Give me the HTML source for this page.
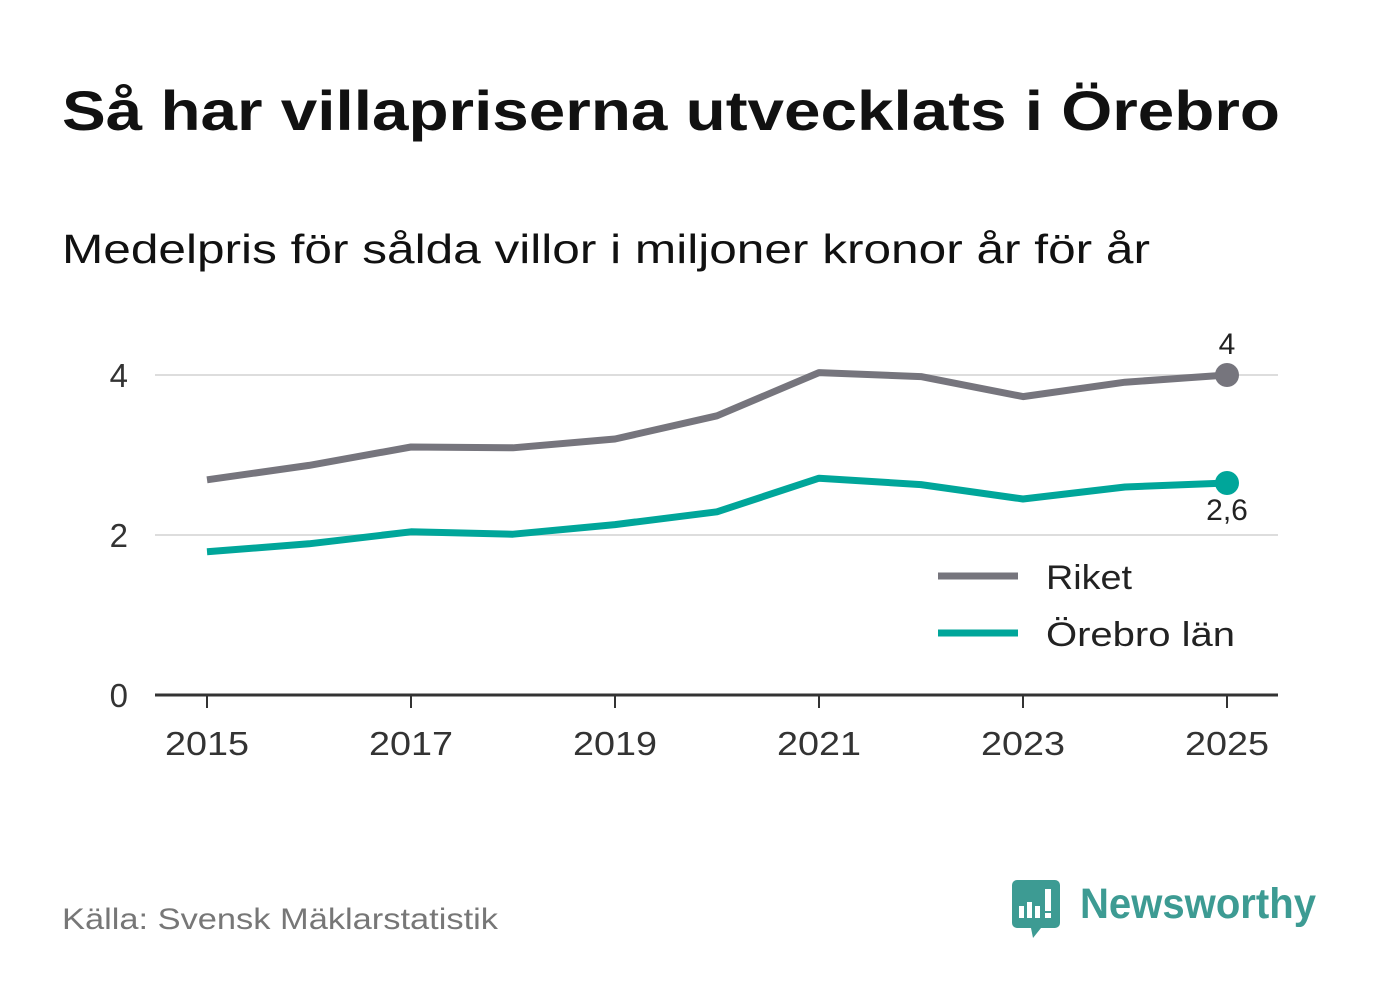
<!DOCTYPE html>
<html><head><meta charset="utf-8"><style>
body{margin:0;background:#fff;width:1382px;height:999px;overflow:hidden;font-family:"Liberation Sans","DejaVu Sans",sans-serif}
</style></head><body>
<svg width="1382" height="999" xmlns="http://www.w3.org/2000/svg">
<text x="62" y="130" font-size="56" font-weight="bold" fill="#111" textLength="1218" lengthAdjust="spacingAndGlyphs">Så har villapriserna utvecklats i Örebro</text>
<text x="62" y="263" font-size="41" fill="#111" textLength="1088" lengthAdjust="spacingAndGlyphs">Medelpris för sålda villor i miljoner kronor år för år</text>
<g id="grid"></g><g id="axes"></g><g id="lines"></g>
<g>
<line x1="938" y1="576" x2="1018" y2="576" stroke="#76757d" stroke-width="7"/>
<text x="1046" y="589" font-size="34" fill="#222" textLength="86" lengthAdjust="spacingAndGlyphs">Riket</text>
<line x1="938" y1="633" x2="1018" y2="633" stroke="#00a69a" stroke-width="7"/>
<text x="1046" y="646" font-size="34" fill="#222" textLength="189" lengthAdjust="spacingAndGlyphs">Örebro län</text>
</g>
<text x="62" y="929" font-size="30" fill="#777" textLength="436" lengthAdjust="spacingAndGlyphs">Källa: Svensk Mäklarstatistik</text>
<g>
<path d="M1017 880h38a5 5 0 0 1 5 5v38a5 5 0 0 1 -5 5h-14l-8 10l-2-10h-14a5 5 0 0 1 -5 -5v-38a5 5 0 0 1 5 -5z" fill="#3d9b93"/>
<rect x="1019" y="906" width="5" height="12" fill="#fff"/><rect x="1027" y="902" width="5" height="16" fill="#fff"/><rect x="1035" y="906" width="5" height="12" fill="#fff"/><rect x="1045" y="889" width="6" height="22" fill="#fff"/><rect x="1045" y="913" width="6" height="5" fill="#fff"/>
<text x="1080" y="918" font-size="43" font-weight="bold" fill="#3d9b93" textLength="236" lengthAdjust="spacingAndGlyphs">Newsworthy</text>
</g>
</svg>
<script>
const years=[2015,2016,2017,2018,2019,2020,2021,2022,2023,2024,2025];
const riket=[2.69,2.87,3.1,3.09,3.2,3.49,4.03,3.98,3.73,3.91,4.0];
const orebro=[1.79,1.89,2.04,2.01,2.13,2.29,2.71,2.63,2.45,2.6,2.65];
const yTicks=[0,2,4];
const xTicks=[2015,2017,2019,2021,2023,2025];
const riketLabel="4", orebroLabel="2,6";
const NS="http://www.w3.org/2000/svg";
const X=y=>207+(y-2015)*102, Y=v=>695-v*80;
function mk(p,t,a){const e=document.createElementNS(NS,t);for(const k in a)e.setAttribute(k,a[k]);p.appendChild(e);return e;}
const grid=document.getElementById('grid'),axes=document.getElementById('axes'),lines=document.getElementById('lines');
yTicks.forEach(v=>{
 if(v>0){const l=mk(grid,'line',{x1:155,x2:1278,y1:Y(v),y2:Y(v),stroke:'#ddd','stroke-width':2});
 
 }
 const t=mk(axes,'text',{x:128,y:Y(v)+12,'font-size':33,fill:'#333','text-anchor':'end'});t.textContent=v;
 
 
});
const ax=mk(axes,'line',{x1:155,x2:1278,y1:695,y2:695,stroke:'#333','stroke-width':3});


xTicks.forEach(y=>{
 mk(axes,'line',{x1:X(y),x2:X(y),y1:695,y2:708,stroke:'#333','stroke-width':2});
 const t=mk(axes,'text',{x:X(y),y:755,'font-size':33,fill:'#333','text-anchor':'middle',textLength:84,lengthAdjust:'spacingAndGlyphs'});t.textContent=y;
 
 
});
function series(vals,col,name,label,ly){
 const p=mk(lines,'polyline',{points:vals.map((v,i)=>X(years[i])+','+Y(v)).join(' '),fill:'none',stroke:col,'stroke-width':7,'stroke-linejoin':'round'});
 
 
 const n=vals.length-1;
 const c=mk(lines,'circle',{cx:X(years[n]),cy:Y(vals[n]),r:12,fill:col});
 
 
 const t=mk(lines,'text',{x:X(years[n]),y:Y(vals[n])+ly,'font-size':30,fill:'#222','text-anchor':'middle'});t.textContent=label;
 
 
}
series(riket,'#76757d','riket',riketLabel,-21);
series(orebro,'#00a69a','orebro',orebroLabel,37);
</script>
</body></html>
